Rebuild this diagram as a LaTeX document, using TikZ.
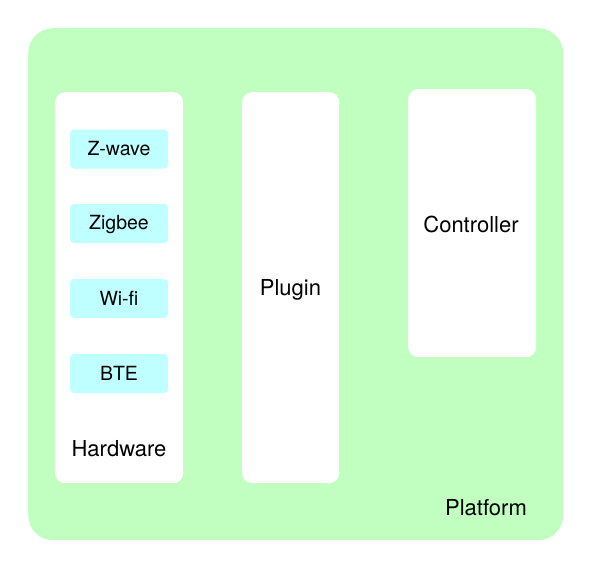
\documentclass[tikz,border=0pt]{standalone}
\usepackage{fontspec}
\setmainfont{TeX Gyre Heros}
\definecolor{platgreen}{HTML}{C0FFC0}
\definecolor{protocyan}{HTML}{C0FFFF}
\begin{document}
\begin{tikzpicture}[x=1pt,y=-1pt,
  panel/.style={fill=white,draw=none,rounded corners=10pt,inner sep=0pt,anchor=north west},
  proto/.style={fill=protocyan,draw=none,rounded corners=4pt,inner sep=0pt,minimum width=98pt,minimum height=39pt,
     font=\fontsize{19.5}{23}\selectfont},
  biglabel/.style={font=\fontsize{22}{26}\selectfont,inner sep=0pt}]
\useasboundingbox (0,0) rectangle (591,568);
\node[fill=platgreen,draw=none,rounded corners=25pt,inner sep=0pt,anchor=north west,
  minimum width=535pt,minimum height=512pt] (platform) at (28,28) {};
\node[panel,minimum width=128pt,minimum height=391pt] (hardware) at (55,92) {};
\node[panel,minimum width=97pt,minimum height=391pt] (plugin) at (242,92) {};
\node[biglabel] (pluginlbl) at (290.5,290) {Plugin};
\node[panel,minimum width=128pt,minimum height=268pt] (controller) at (408,89) {};
\node[biglabel] (controllerlbl) at (471,224) {Controller};
\node[proto] (zwave) at (119,149) {Z-wave};
\node[proto] (zigbee) at (119,223.5) {};
\node[font=\fontsize{19.5}{23}\selectfont,inner sep=0pt] (zigbeelbl) at (119,225) {Zigbee};
\node[proto] (wifi) at (119,298.5) {Wi-fi};
\node[proto] (bte) at (119,373.5) {BTE};
\node[biglabel] (hwlbl) at (119,449) {Hardware};
\node[biglabel] (platlbl) at (486,508) {Platform};
\end{tikzpicture}
\end{document}
